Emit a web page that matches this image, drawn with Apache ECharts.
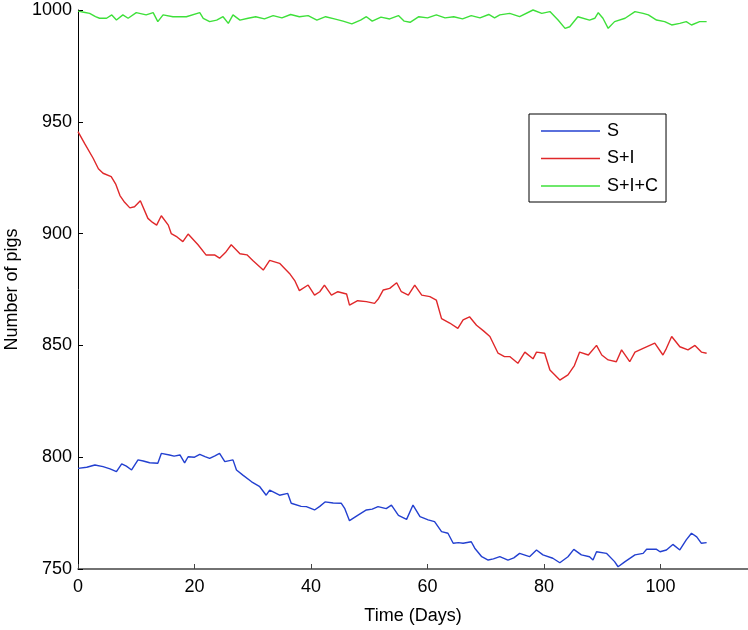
<!DOCTYPE html>
<html>
<head>
<meta charset="utf-8">
<script src="https://cdn.jsdelivr.net/npm/echarts@6/dist/echarts.min.js"></script>
<style>
  html, body { margin: 0; padding: 0; background: #fff; }
  #chart { width: 748px; height: 630px; }
</style>
</head>
<body>
<div id="chart"></div>
<script>
// S
var sTime = [0,1.5,2.9,4.3,5.5,6.6,7.5,8.3,9.2,10.3,11.2,12.3,13.7,14.3,15.7,16.5,17.5,18.3,18.9,20.0,20.9,21.8,22.6,23.5,24.3,25.2,26.6,27.2,28.3,29.8,31.2,32.3,32.9,34.6,36,36.6,38.3,39.2,40.6,41.5,42.4,43.8,45.2,45.8,46.6,48,49.5,50.5,51.5,52.9,53.8,55,56.4,57.5,58.7,60.1,61.2,62.4,63.5,64.4,65.3,66.1,67.5,68.1,69.3,70.4,71.3,72.4,73.8,74.8,75.8,77.5,78.7,79.8,81.5,82.7,84.1,85.1,86.4,87.8,88.4,89,90.7,92.1,92.7,93.9,95.6,97,97.6,99.3,99.9,101,102.1,103.3,104.4,105.3,106.2,107,107.9]
var sVals = [795,795.5,796.5,795.8,794.8,793.5,797,796,794.3,798.8,798.3,797.5,797.3,801.7,801,800.5,801,797.5,800.2,800,801.3,800.3,799.5,800.6,801.7,798,798.8,794.3,792,789,786.8,783,785.3,783,783.8,779.4,778,777.9,776.4,778,780,779.5,779.4,777,771.6,774,776.4,776.8,777.9,777,778.6,774,772.2,778.6,773.4,772,771.2,766.7,766,761.5,761.8,761.5,762.2,759.3,755.5,754,754.5,755.5,754,755,757,755.5,758.5,756.3,754.8,752.8,755.5,758.8,756.3,755.5,754,757.7,757,753.3,751,753.3,756.3,757,758.8,758.8,757.7,758.5,761,758.5,763,766,764.4,761.5,761.8]

// S+I
var siTime = [0,1.2,2.6,3.5,4.3,5.7,6.5,7.2,8.0,8.9,9.7,10.7,12,12.8,13.5,14.3,15.5,16,17,18,18.9,20.6,22,23.5,24.3,25.3,26.3,27.8,29,30,31.8,32.9,34.6,36.3,37.2,38,39.5,40.6,41.5,42.3,43.5,44.6,46.1,46.6,48,49.5,50.9,51.6,52.4,53.5,54.7,55.5,56.7,57.8,59,60.4,61.5,62.4,63.8,65.2,66.1,67.2,68.4,69.6,70.7,72.1,73.2,74.1,75.5,76.7,78.1,78.7,80.1,81,82.7,84.1,85.2,86.1,87.6,89,89.9,91,92.4,93.3,94.7,95.6,97,99,100.4,101,101.9,103.3,104.7,105.9,107,107.9]
var siVals = [945.6,940,933.7,929,927,925.5,922,917,914,911.5,912,914.7,906.8,905,903.8,908,903.8,900,898.5,896.4,899.8,895,890.4,890.4,889,891.5,895,891,890.5,888,883.7,888,886.7,882.2,879,874.5,877,872.5,874,877,872.5,874,873,868,870,869.6,868.8,871,874.8,875.5,878,874,872.5,877,872.5,871.8,870.3,862,860,857.6,861.4,862.8,859,856.5,854,846.5,845,845,842,847,844,847,846.5,839,834.5,836.8,841,847,845.7,850,845.7,843.5,842.7,848,842.7,847,848.7,851,845.7,848.7,854,849.4,848,850,847,846.5]

// S+I+C
var sicTime = [0,1,2,3,3.7,4.9,5.8,6.6,7.7,8.6,10,11.7,12.9,13.7,14.6,16.3,18.6,20.9,21.5,22.6,23.8,24.9,25.8,26.6,27.8,29.2,30.5,32,33.5,35,36.5,38,39.5,41,42.5,44,45.5,47,48.5,49.5,50.5,52,53.5,55,56,57,58.5,60,61.5,63,64.5,66,67.5,69,70.5,71.5,72.4,74.1,75.8,78.1,79.6,81,82.4,83.6,84.4,85.8,87.8,88.7,89.3,90.1,91,92.1,93.9,95.6,97,97.9,99.3,100.7,101.9,103.3,104.4,105.3,106.7,107.9]
var sicVals = [999.5,999,998.5,997,996.3,996.3,997.8,995.5,997.8,996.3,998.8,997.8,998.8,994.8,997.8,997,997,998.8,996.3,994.8,995.5,997,994,997.8,995.5,996.3,997,996,997.5,996.5,998,997,997.5,995.5,997,996,995,993.8,995.5,997,995,996.8,996,997.5,995,994.5,997,996.5,997.8,996.5,997,996,997.5,996.5,998,996.5,997.8,998.5,997,1000,998.5,999.3,995.5,991.8,992.5,997,995.5,996.3,998.8,996.3,991.8,994.8,996.3,999.3,998.5,997.8,995.5,994.8,993.3,994,994.8,993.3,994.8,994.8]

var seriesNames = ['S', 'S+I', 'S+I+C']
var seriesColors = ['#2340d0', '#e0282a', '#3ee03a']
var xTicks = [0, 20, 40, 60, 80, 100]

function pairs(t, v) {
    var out = []
    for (var i = 0; i < t.length; i++) out.push([t[i], v[i]])
    return out
}

var allData = [pairs(sTime, sVals), pairs(siTime, siVals), pairs(sicTime, sicVals)]
var font = 'Liberation Sans, Arial, Helvetica, sans-serif'

var myChart = echarts.init(document.getElementById('chart'))
myChart.setOption({
    animation: false,
    grid: { left: 78, right: 0, top: 10, bottom: 61, containLabel: false, outerBoundsMode: 'none' },
    legend: {
        data: seriesNames,
        orient: 'vertical',
        left: 529,
        top: 114,
        padding: [8, 8, 7, 12],
        itemWidth: 59,
        itemHeight: 1.5,
        itemGap: 9.5,
        icon: 'rect',
        borderColor: '#000',
        borderWidth: 1,
        borderRadius: 0,
        backgroundColor: '#fff',
        textStyle: { fontFamily: font, fontSize: 18, color: '#000', padding: [0, 0, 0, 2] }
    },
    xAxis: {
        type: 'value',
        min: 0,
        max: 115,
        name: 'Time (Days)',
        nameLocation: 'middle',
        nameGap: 38,
        nameTextStyle: { fontFamily: font, fontSize: 18, color: '#000' },
        axisLine: { lineStyle: { color: '#444', width: 1.5 } },
        axisTick: { inside: true, length: 5, customValues: xTicks, lineStyle: { color: '#444' } },
        axisLabel: { customValues: xTicks, fontFamily: font, fontSize: 18, color: '#000', margin: 9 },
        splitLine: { show: false }
    },
    yAxis: {
        type: 'value',
        min: 750,
        max: 1000,
        interval: 50,
        name: 'Number of pigs',
        nameLocation: 'middle',
        nameGap: 57,
        nameTextStyle: { fontFamily: font, fontSize: 18, color: '#000' },
        axisLine: { show: true, lineStyle: { color: '#000', width: 1 } },
        axisTick: { show: true, inside: true, length: 5, lineStyle: { color: '#000' } },
        axisLabel: {
            fontFamily: font, fontSize: 18, color: '#000', margin: 6,
            formatter: function (v) { return String(v) }
        },
        splitLine: { show: false }
    },
    series: seriesNames.map(function (name, i) {
        return {
            name: name,
            type: 'line',
            data: allData[i],
            symbol: 'none',
            clip: false,
            lineStyle: { color: seriesColors[i], width: 1.4 },
            itemStyle: { color: seriesColors[i] }
        }
    })
})
</script>
</body>
</html>
